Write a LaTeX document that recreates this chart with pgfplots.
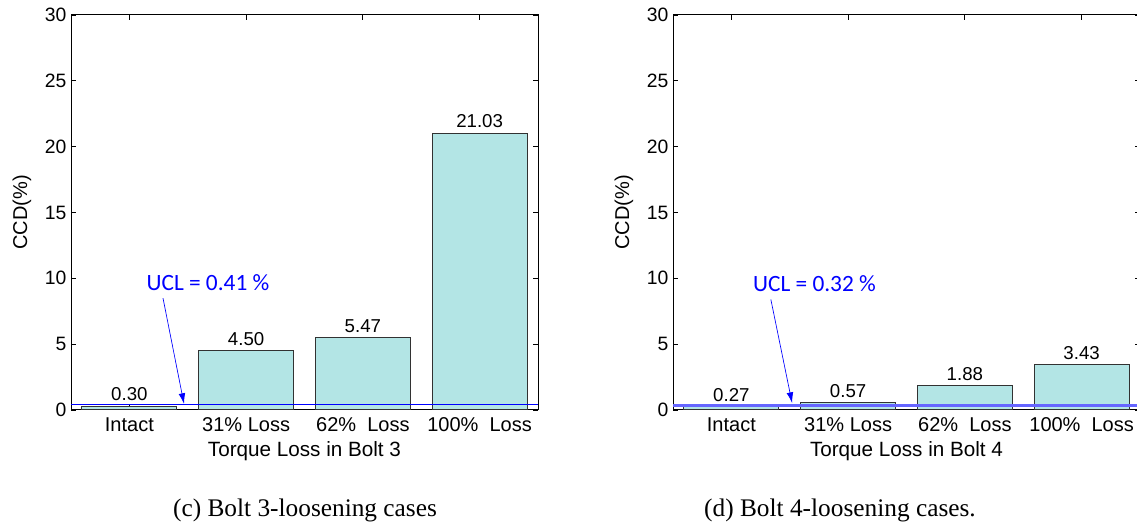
\documentclass[border=0pt]{standalone}
\usepackage{pgfplots}
\pgfplotsset{compat=1.18}
\usepackage{fontspec}
\setmainfont{Liberation Sans}
\newfontfamily\carlito{Carlito}
\newfontfamily\capfont{Liberation Serif}
\usetikzlibrary{arrows.meta}
\definecolor{barfill}{RGB}{179,229,229}
\definecolor{barline}{RGB}{50,50,50}
\pgfplotsset{
  myaxis/.style={
    scale only axis=true,
    width=350.25pt, height=296.25pt,
    anchor=south west,
    xmin=0.5, xmax=4.5, ymin=0, ymax=30,
    xtick={1,2,3,4},
    ytick={0,5,10,15,20,25,30},
    tick align=inside,
    major tick length=4pt,
    axis line style={line width=0.75pt},
    every tick/.style={line width=0.6pt, black},
    font=\fontsize{14.5pt}{16pt}\selectfont,
    /pgf/number format/assume math mode=true,
    x tick label style={yshift=-2pt, font=\fontsize{15pt}{17pt}\selectfont},
    ylabel={CCD(\%)},
    ylabel style={at={(axis description cs:-0.105,0.5)}, anchor=center, font=\fontsize{15pt}{17pt}\selectfont},
    xlabel style={at={(axis description cs:0.5,0)}, anchor=center, yshift=-30.75pt, font=\fontsize{15.5pt}{17pt}\selectfont},
    xticklabels={Intact, 31\% Loss, 62\%\ \ Loss, 100\%\ \ Loss},
  },
  mybars/.style={
    ybar, bar width=71.25pt, fill=barfill, draw=barline, line width=0.75pt,
    nodes near coords={\pgfmathprintnumber[fixed,fixed zerofill,precision=2]{\pgfplotspointmeta}},
    nodes near coords style={font=\fontsize{14pt}{16pt}\selectfont, text=black},
  },
}
\begin{document}
\begin{tikzpicture}
\useasboundingbox (0,0) rectangle (852.75pt,393pt);
\begin{axis}[myaxis, at={(53.25pt,85.5pt)}, xlabel={Torque Loss in Bolt 3}]
\addplot[mybars] coordinates {(1,0.30) (2,4.50) (3,5.47) (4,21.03)};
\addplot[blue, line width=0.75pt, no marks] coordinates {(0.5,0.41) (4.5,0.41)};
\draw[blue, line width=0.5pt, -{Latex[length=8pt,width=5pt]}] (axis cs:1.288,8.5) -- (axis cs:1.468,0.46);
\node[text=blue, font=\carlito\fontsize{17.5pt}{20pt}\selectfont] at (axis cs:1.673,9.65) {UCL = 0.41 \%};
\end{axis}
\begin{axis}[myaxis, at={(504.75pt,85.5pt)}, xlabel={Torque Loss in Bolt 4}]
\addplot[mybars] coordinates {(1,0.27) (2,0.57) (3,1.88) (4,3.43)};
\addplot[blue!60!white, line width=2pt, no marks] coordinates {(0.5,0.32) (4.5,0.32)};
\draw[blue, line width=0.5pt, -{Latex[length=8pt,width=5pt]}] (axis cs:1.338,8.4) -- (axis cs:1.52,0.53);
\node[text=blue, font=\carlito\fontsize{17.5pt}{20pt}\selectfont] at (axis cs:1.712,9.57) {UCL = 0.32 \%};
\end{axis}
\node[font=\capfont\fontsize{19pt}{22pt}\selectfont] at (228.75pt,10.5pt) {(c) Bolt 3-loosening cases};
\node[font=\capfont\fontsize{19pt}{22pt}\selectfont] at (630pt,10.5pt) {(d) Bolt 4-loosening cases.};
\end{tikzpicture}
\end{document}
